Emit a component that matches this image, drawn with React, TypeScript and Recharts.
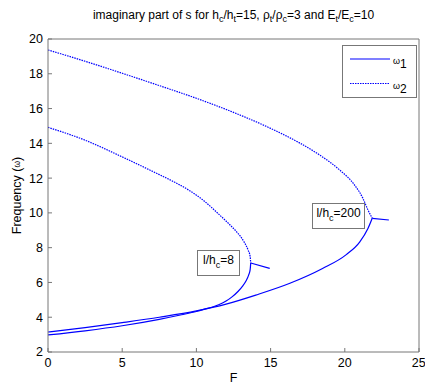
import React from "react";
import {
  LineChart,
  Line,
  XAxis,
  YAxis,
  Legend,
} from "recharts";

// F values and frequencies, one pair of arrays per branch
// l/hc = 200
const f200w2 = [0, 2.5, 5, 7.5, 10, 12.5, 15, 17, 18.3, 19.65, 20.66, 21.22, 21.56, 21.85];
const w200w2 = [19.37, 18.72, 18.03, 17.32, 16.59, 15.78, 14.86, 14.0, 13.33, 12.47, 11.6, 10.84, 10.17, 9.69];
const f200w1 = [0, 2.5, 5, 7.5, 10, 12, 14, 16.3, 18.5, 20.1, 21, 21.56, 21.85];
const w200w1 = [3.15, 3.4, 3.69, 4.0, 4.36, 4.75, 5.27, 5.95, 6.8, 7.6, 8.32, 9.1, 9.69];
const f200tail = [21.85, 22.97];
const w200tail = [9.69, 9.59];

// l/hc = 8
const f8w2 = [0, 2.5, 5, 7.5, 8.5, 9.5, 10.5, 11, 11.45, 12.25, 12.7, 13.2, 13.48, 13.62, 13.66];
const w8w2 = [14.92, 14.18, 13.22, 12.2, 11.78, 11.3, 10.7, 10.33, 9.97, 9.32, 8.92, 8.35, 7.87, 7.5, 7.12];
const f8w1 = [0, 2.5, 5, 7.5, 9, 10, 10.5, 11.5, 12, 12.4, 12.8, 13.1, 13.35, 13.52, 13.62, 13.66];
const w8w1 = [2.98, 3.22, 3.51, 3.88, 4.14, 4.33, 4.45, 4.72, 4.93, 5.17, 5.48, 5.78, 6.1, 6.42, 6.72, 7.12];
const f8tail = [13.66, 14.94];
const w8tail = [7.12, 6.81];

const xTicks = [0, 5, 10, 15, 20, 25];
const yTicks = [2, 4, 6, 8, 10, 12, 14, 16, 18, 20];

const zip = (fs: number[], ws: number[]) => fs.map((F, i) => ({ F, w: ws[i] }));

const BLUE = "#0000ff";
const AXIS = "#777";
const FONT = "'Liberation Sans', Arial, sans-serif";
const DOTTED = "1.5 1";

const series = [
  { key: "w2-200", data: zip(f200w2, w200w2), dash: DOTTED },
  { key: "w1-200", data: zip(f200w1, w200w1), dash: undefined },
  { key: "tail-200", data: zip(f200tail, w200tail), dash: undefined },
  { key: "w2-8", data: zip(f8w2, w8w2), dash: DOTTED },
  { key: "w1-8", data: zip(f8w1, w8w1), dash: undefined },
  { key: "tail-8", data: zip(f8tail, w8tail), dash: undefined },
];

const tickStyle = { fontSize: 12.5, fill: "#000", fontFamily: FONT };

function LegendBox() {
  return (
    <div
      style={{
        width: 75,
        height: 53,
        boxSizing: "border-box",
        border: `1px solid ${AXIS}`,
        background: "#fff",
        fontFamily: FONT,
      }}
    >
      <svg width={73} height={51}>
        <line x1={7} x2={47} y1={13} y2={13} stroke={BLUE} strokeWidth={1.2} />
        <line x1={7} x2={47} y1={37.5} y2={37.5} stroke={BLUE} strokeWidth={1.2} strokeDasharray={DOTTED} />
        <text x={50} y={18} fontSize={9} fill="#000">
          ω<tspan fontSize={12} dy={4}>1</tspan>
        </text>
        <text x={50} y={42.5} fontSize={9} fill="#000">
          ω<tspan fontSize={12} dy={4}>2</tspan>
        </text>
      </svg>
    </div>
  );
}

function Note({ left, top, width, value }: { left: number; top: number; width: number; value: string }) {
  return (
    <div
      style={{
        position: "absolute",
        left,
        top,
        width,
        height: 26,
        boxSizing: "border-box",
        border: `1px solid ${AXIS}`,
        background: "#fff",
        fontFamily: FONT,
        fontSize: 12,
        lineHeight: "19px",
        textAlign: "center",
        whiteSpace: "nowrap",
      }}
    >
      l/h<span style={{ fontSize: 9, position: "relative", top: 4 }}>c</span>={value}
    </div>
  );
}

const sub = (s: string) => (
  <span style={{ fontSize: 9, position: "relative", top: 3 }}>{s}</span>
);

export default function App() {
  return (
    <div style={{ position: "absolute", left: 0, top: 0, width: 425, height: 385, background: "#fff" }}>
      <div
        style={{
          position: "absolute",
          left: 0,
          width: 467,
          top: 9,
          textAlign: "center",
          fontFamily: FONT,
          fontSize: 12,
          lineHeight: "12px",
          whiteSpace: "nowrap",
        }}
      >
        imaginary part of s for h{sub("c")}/h{sub("t")}=15, ρ{sub("t")}/ρ{sub("c")}=3 and E{sub("t")}/E{sub("c")}=10
      </div>
      <LineChart
        width={425}
        height={385}
        margin={{ top: 9, right: 1, left: 0, bottom: 0 }}
        style={{ position: "absolute", left: 0, top: 0 }}
      >
        <XAxis
          type="number"
          dataKey="F"
          domain={[0, 25]}
          ticks={xTicks}
          allowDataOverflow
          height={33}
          stroke={AXIS}
          tickSize={-4}
          tickMargin={10}
          tick={tickStyle}
          label={{ value: "F", position: "insideBottom", offset: 3, style: tickStyle }}
        />
        <XAxis
          xAxisId="top"
          orientation="top"
          type="number"
          dataKey="F"
          domain={[0, 25]}
          ticks={xTicks}
          height={30}
          stroke={AXIS}
          tickSize={-4}
          tick={false}
        />
        <YAxis
          type="number"
          domain={[2, 20]}
          ticks={yTicks}
          allowDataOverflow
          width={48}
          stroke={AXIS}
          tickSize={-4}
          tickMargin={9}
          tick={tickStyle}
          label={(props: any) => {
            const vb = props.viewBox || { x: 0, y: 39, height: 313 };
            const cx = vb.x + 17;
            const cy = vb.y + vb.height / 2;
            return (
              <text
                x={cx}
                y={cy}
                transform={`rotate(-90 ${cx} ${cy})`}
                textAnchor="middle"
                dominantBaseline="central"
                style={tickStyle}
              >
                Frequency (<tspan fontSize={8.5}>ω</tspan>)
              </text>
            );
          }}
        />
        <YAxis
          yAxisId="right"
          orientation="right"
          type="number"
          domain={[2, 20]}
          ticks={yTicks}
          width={5}
          stroke={AXIS}
          tickSize={-4}
          tick={false}
        />
        <Legend
          layout="vertical"
          align="center"
          verticalAlign="middle"
          content={() => <LegendBox />}
          wrapperStyle={{ position: "absolute", left: 342, top: 45, width: 75, height: 53 }}
        />
        {series.map((s) => (
          <Line
            key={s.key}
            data={s.data}
            dataKey="w"
            type="monotone"
            stroke={BLUE}
            strokeWidth={1.2}
            strokeDasharray={s.dash}
            dot={false}
            activeDot={false}
            legendType="none"
            isAnimationActive={false}
          />
        ))}
      </LineChart>
      <Note left={197} top={250} width={43} value="8" />
      <Note left={312} top={203} width={53} value="200" />
    </div>
  );
}
